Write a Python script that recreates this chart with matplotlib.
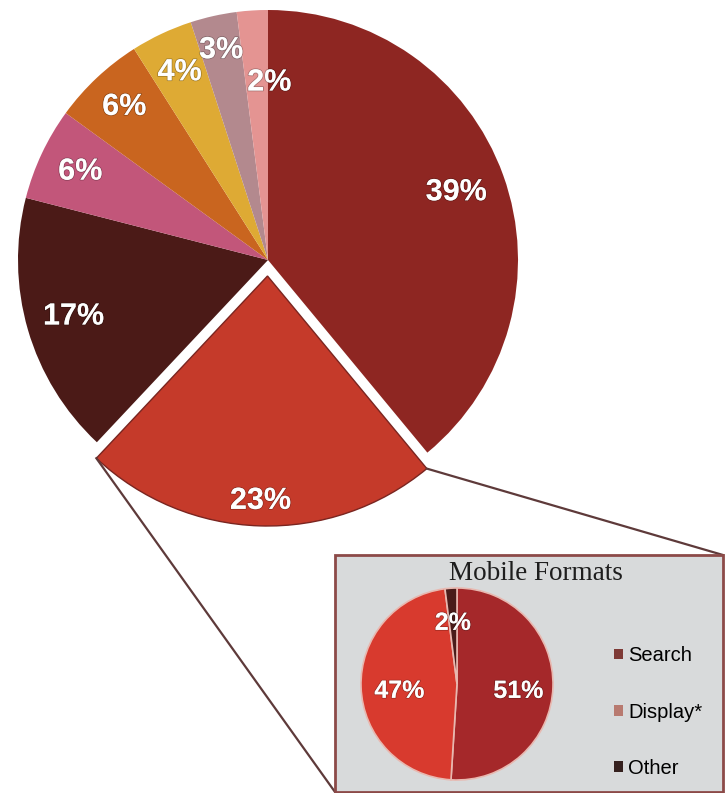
import numpy as np
import matplotlib
matplotlib.use("Agg")
import matplotlib.pyplot as plt
import matplotlib.patheffects as pe
from matplotlib.patches import Rectangle, Patch

# ---- data ----
main_values = [39, 23, 17, 6, 6, 4, 3, 2]
main_colors = ["#8e2622", "#c53a2a", "#4b1a17", "#c2567a",
               "#c9651f", "#deaa34", "#b3898e", "#e49492"]

mobile_labels = ["Search", "Display*", "Other"]
mobile_values = [51, 47, 2]
mobile_colors = ["#a5282a", "#d83a2e", "#4a1c1a"]
legend_colors = ["#7e3a36", "#b87a70", "#35201e"]

H = 793
fig = plt.figure(figsize=(7.25, 7.93), dpi=100)
ax = fig.add_axes([0, 0, 1, 1])

shadow = [pe.withStroke(linewidth=1.2, foreground="#00000040")]

# ---- main pie ----
R = 250
explode = [0, 16, 0, 0, 0, 0, 0, 0]
wedges, _ = ax.pie(main_values, colors=main_colors, startangle=90, counterclock=False,
                   center=(268, H - 260), radius=R, explode=explode, frame=True,
                   wedgeprops=dict(linewidth=0))
wedges[1].set_edgecolor("#7a2520")
wedges[1].set_linewidth(1.0)

# label radius (fraction of R) and angle nudge (deg) per slice
label_dist = [0.8, 0.9, 0.81, 0.83, 0.84, 0.83, 0.86, 0.71]
label_turn = [0, 0, 0, 0, 0, 0, 0, -4]
for w, v, d, t in zip(wedges, main_values, label_dist, label_turn):
    cx, cy = w.center
    a = np.deg2rad((w.theta1 + w.theta2) / 2 + t)
    ax.text(cx + d * R * np.cos(a), cy + d * R * np.sin(a), f"{v}%",
            ha="center", va="center", color="white", fontsize=22,
            family="Liberation Sans", fontweight="bold", path_effects=shadow, zorder=5)

# ---- inset box + connectors ----
bx0, bx1, by_top, by_bot = 335, 723, 555, 792
w = wedges[1]
cx, cy = w.center
p1 = (cx + R * np.cos(np.deg2rad(w.theta1)), cy + R * np.sin(np.deg2rad(w.theta1)))
p2 = (cx + R * np.cos(np.deg2rad(w.theta2)), cy + R * np.sin(np.deg2rad(w.theta2)))
ax.plot([p1[0], bx0], [p1[1], H - by_bot], color="#5e3a3a", lw=1.6, zorder=2)
ax.plot([p2[0], bx1], [p2[1], H - by_top], color="#5e3a3a", lw=1.6, zorder=2)

ax.add_patch(Rectangle((bx0, H - by_bot), bx1 - bx0, by_bot - by_top,
                       facecolor="#d8dadb", edgecolor="#8c4a48", lw=2, zorder=3))
ax.text(536, H - 574, "Mobile Formats", ha="center", va="center",
        family="Liberation Serif", fontsize=19.5, color="#1e1e1e", zorder=5)

# ---- inset pie ----
r2 = 96
mw, _ = ax.pie(mobile_values, colors=mobile_colors, startangle=90, counterclock=False,
               center=(457, H - 684), radius=r2, frame=True,
               wedgeprops=dict(linewidth=1.2, edgecolor="#e8b8b0", zorder=4))
inset_dist = [0.64, 0.6, 0.69]
for w, v, d in zip(mw, mobile_values, inset_dist):
    cx, cy = w.center
    a = np.deg2rad((w.theta1 + w.theta2) / 2)
    ax.text(cx + d * r2 * np.cos(a), cy + d * r2 * np.sin(a) - 5, f"{v}%",
            ha="center", va="center", color="white", fontsize=18,
            family="Liberation Sans", fontweight="bold", path_effects=shadow, zorder=6)

handles = [Patch(facecolor=c, edgecolor="none") for c in legend_colors]
leg = ax.legend(handles, mobile_labels, loc="center left",
                bbox_to_anchor=(604 / 725, 1 - 712 / H), frameon=False,
                prop=dict(family="Liberation Sans", size=14.5),
                handlelength=0.45, handleheight=0.45, handletextpad=0.25,
                labelspacing=1.85, borderpad=0)
leg.set_zorder(6)

ax.set_xlim(0, 725)
ax.set_ylim(0, H)
ax.set_aspect("equal")
ax.axis("off")

fig.savefig("out.png", dpi=100)
